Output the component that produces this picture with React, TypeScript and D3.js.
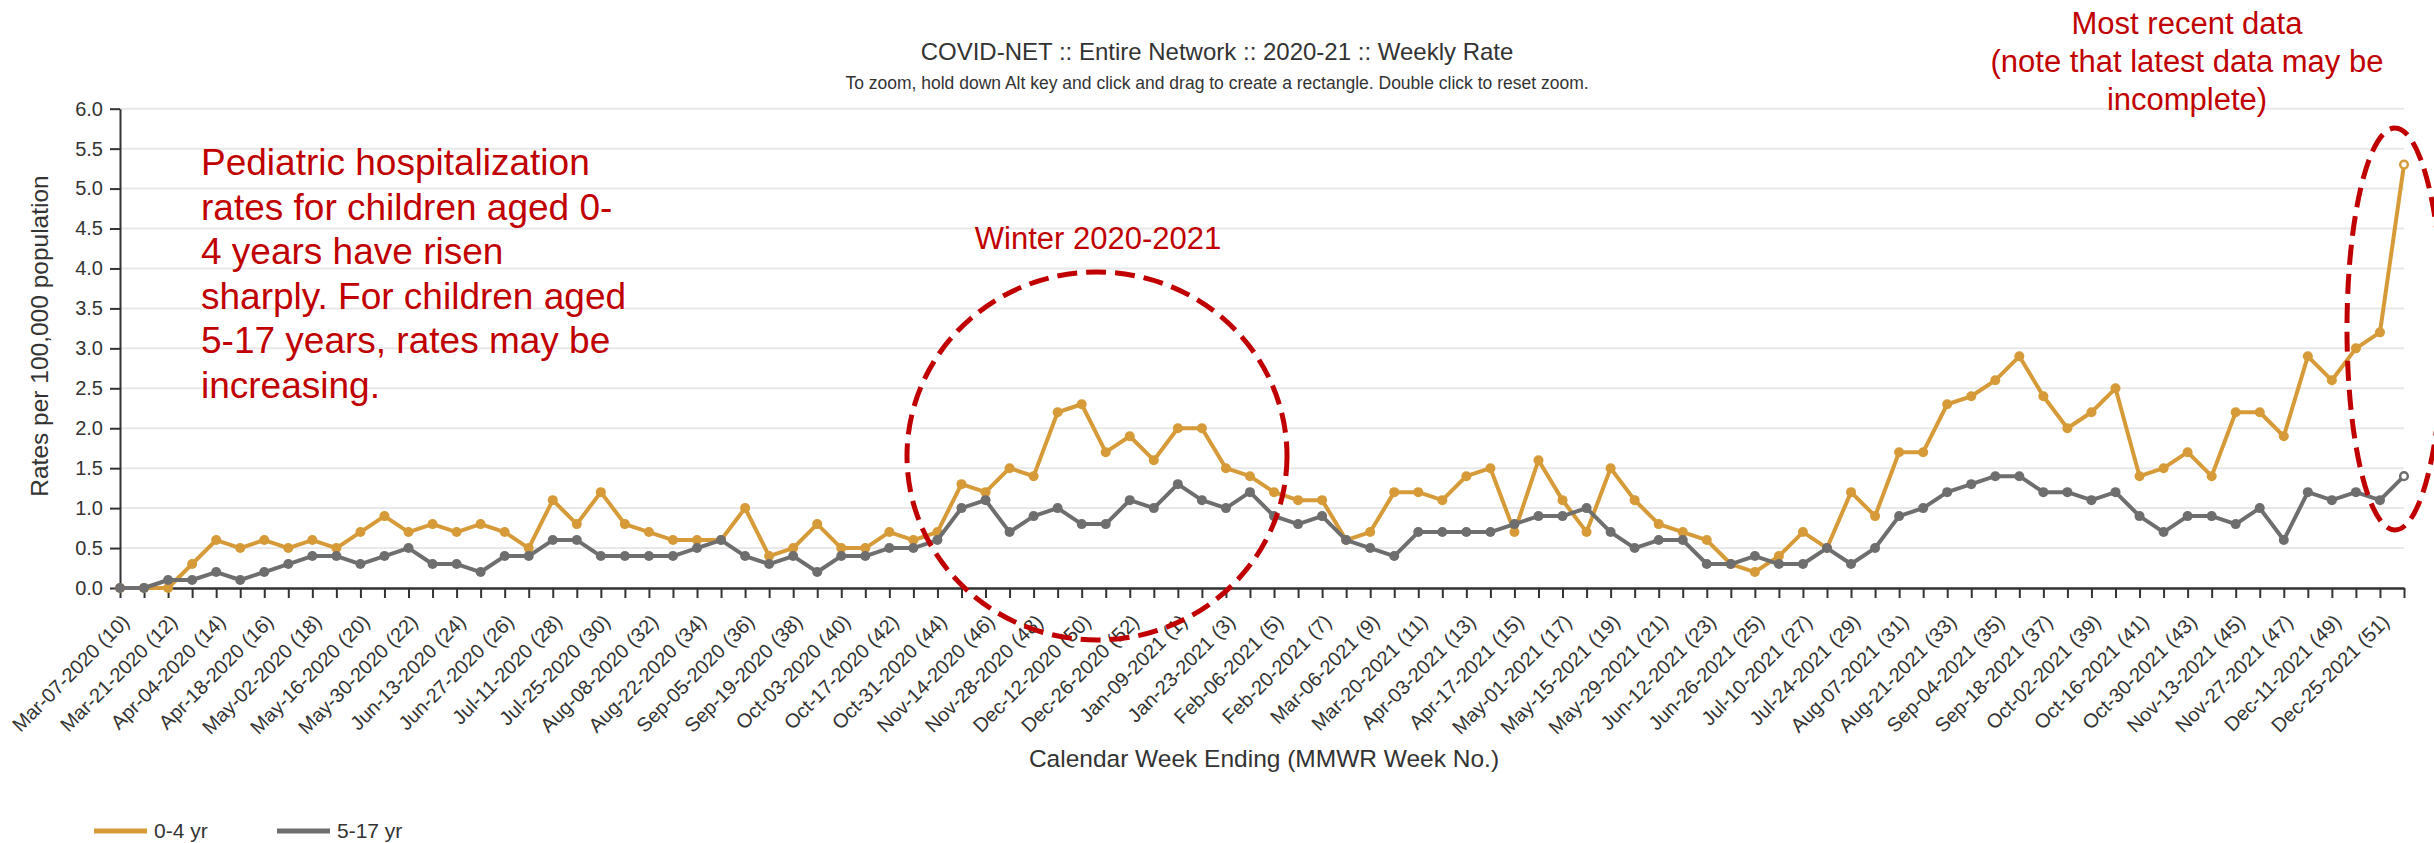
import React, { useEffect, useRef } from 'react';
import * as d3 from 'd3';

// week-ending labels shown on the x axis (every second week)
const weekLabels = [
  'Mar-07-2020 (10)', 'Mar-21-2020 (12)', 'Apr-04-2020 (14)', 'Apr-18-2020 (16)',
  'May-02-2020 (18)', 'May-16-2020 (20)', 'May-30-2020 (22)', 'Jun-13-2020 (24)',
  'Jun-27-2020 (26)', 'Jul-11-2020 (28)', 'Jul-25-2020 (30)', 'Aug-08-2020 (32)',
  'Aug-22-2020 (34)', 'Sep-05-2020 (36)', 'Sep-19-2020 (38)', 'Oct-03-2020 (40)',
  'Oct-17-2020 (42)', 'Oct-31-2020 (44)', 'Nov-14-2020 (46)', 'Nov-28-2020 (48)',
  'Dec-12-2020 (50)', 'Dec-26-2020 (52)', 'Jan-09-2021 (1)', 'Jan-23-2021 (3)',
  'Feb-06-2021 (5)', 'Feb-20-2021 (7)', 'Mar-06-2021 (9)', 'Mar-20-2021 (11)',
  'Apr-03-2021 (13)', 'Apr-17-2021 (15)', 'May-01-2021 (17)', 'May-15-2021 (19)',
  'May-29-2021 (21)', 'Jun-12-2021 (23)', 'Jun-26-2021 (25)', 'Jul-10-2021 (27)',
  'Jul-24-2021 (29)', 'Aug-07-2021 (31)', 'Aug-21-2021 (33)', 'Sep-04-2021 (35)',
  'Sep-18-2021 (37)', 'Oct-02-2021 (39)', 'Oct-16-2021 (41)', 'Oct-30-2021 (43)',
  'Nov-13-2021 (45)', 'Nov-27-2021 (47)', 'Dec-11-2021 (49)', 'Dec-25-2021 (51)',
];

// weekly rates per 100,000, one value per week
const rate0to4 = [
  0, 0, 0, 0.3, 0.6, 0.5, 0.6, 0.5, 0.6, 0.5,
  0.7, 0.9, 0.7, 0.8, 0.7, 0.8, 0.7, 0.5, 1.1, 0.8,
  1.2, 0.8, 0.7, 0.6, 0.6, 0.6, 1.0, 0.4, 0.5, 0.8,
  0.5, 0.5, 0.7, 0.6, 0.7, 1.3, 1.2, 1.5, 1.4, 2.2,
  2.3, 1.7, 1.9, 1.6, 2.0, 2.0, 1.5, 1.4, 1.2, 1.1,
  1.1, 0.6, 0.7, 1.2, 1.2, 1.1, 1.4, 1.5, 0.7, 1.6,
  1.1, 0.7, 1.5, 1.1, 0.8, 0.7, 0.6, 0.3, 0.2, 0.4,
  0.7, 0.5, 1.2, 0.9, 1.7, 1.7, 2.3, 2.4, 2.6, 2.9,
  2.4, 2.0, 2.2, 2.5, 1.4, 1.5, 1.7, 1.4, 2.2, 2.2,
  1.9, 2.9, 2.6, 3.0, 3.2, 5.3,
];

const rate5to17 = [
  0, 0, 0.1, 0.1, 0.2, 0.1, 0.2, 0.3, 0.4, 0.4,
  0.3, 0.4, 0.5, 0.3, 0.3, 0.2, 0.4, 0.4, 0.6, 0.6,
  0.4, 0.4, 0.4, 0.4, 0.5, 0.6, 0.4, 0.3, 0.4, 0.2,
  0.4, 0.4, 0.5, 0.5, 0.6, 1.0, 1.1, 0.7, 0.9, 1.0,
  0.8, 0.8, 1.1, 1.0, 1.3, 1.1, 1.0, 1.2, 0.9, 0.8,
  0.9, 0.6, 0.5, 0.4, 0.7, 0.7, 0.7, 0.7, 0.8, 0.9,
  0.9, 1.0, 0.7, 0.5, 0.6, 0.6, 0.3, 0.3, 0.4, 0.3,
  0.3, 0.5, 0.3, 0.5, 0.9, 1.0, 1.2, 1.3, 1.4, 1.4,
  1.2, 1.2, 1.1, 1.2, 0.9, 0.7, 0.9, 0.9, 0.8, 1.0,
  0.6, 1.2, 1.1, 1.2, 1.1, 1.4,
];

const seriesNames = ['0-4 yr', '5-17 yr'];
const seriesColors = ['#d69b38', '#6e6e6e'];

const pediatricNote = [
  'Pediatric hospitalization',
  'rates for children aged 0-',
  '4 years have risen',
  'sharply. For children aged',
  '5-17 years, rates may be',
  'increasing.',
];
const recentNote = ['Most recent data', '(note that latest data may be', 'incomplete)'];

const FONT = '"Liberation Sans", Arial, Helvetica, sans-serif';
const RED = '#c00000';

const App = () => {
  const svgRef = useRef<SVGSVGElement>(null);

  useEffect(() => {
    const width = 2434;
    const height = 843;
    const margin = { top: 108.7, right: 30, bottom: 255, left: 120 };

    const svg = d3.select(svgRef.current);
    svg.selectAll('*').remove();
    svg.attr('width', width).attr('height', height).style('font-family', FONT);

    const weeks = d3.range(rate0to4.length);
    const xScale = d3.scalePoint<number>()
      .domain(weeks)
      .range([margin.left, 2404]);
    const yScale = d3.scaleLinear()
      .domain([0, 6])
      .range([height - margin.bottom, margin.top]);

    // gridlines
    svg.append('g')
      .selectAll('line')
      .data(yScale.ticks(12))
      .enter()
      .append('line')
      .attr('x1', margin.left)
      .attr('x2', 2404)
      .attr('y1', (d) => yScale(d))
      .attr('y2', (d) => yScale(d))
      .attr('stroke', '#e8e8e8')
      .attr('stroke-width', 2);

    // y axis
    const yAxis = svg.append('g')
      .attr('transform', `translate(${margin.left},0)`)
      .call(d3.axisLeft(yScale).ticks(12).tickSize(10).tickSizeOuter(0).tickFormat(d3.format('.1f')));
    yAxis.select('.domain').attr('stroke', '#333').attr('stroke-width', 2);
    yAxis.selectAll('.tick line').attr('stroke', '#333').attr('stroke-width', 2);
    yAxis.selectAll('.tick text')
      .attr('x', -17)
      .style('font-size', '20px')
      .style('font-family', FONT)
      .attr('fill', '#333');

    // x axis
    const xAxis = svg.append('g')
      .attr('transform', `translate(0,${yScale(0)})`)
      .call(d3.axisBottom(xScale)
        .tickSize(10)
        .tickSizeOuter(0)
        .tickFormat((i) => (i % 2 === 0 ? weekLabels[i / 2] : '')));
    xAxis.select('.domain').attr('stroke', '#333').attr('stroke-width', 2.5);
    xAxis.selectAll('.tick line').attr('stroke', '#333').attr('stroke-width', 2);
    xAxis.selectAll('.tick text')
      .attr('x', 0)
      .attr('y', 0)
      .attr('dy', 0)
      .attr('text-anchor', 'end')
      .attr('transform', 'translate(10,35) rotate(-45)')
      .style('font-size', '20px')
      .style('font-family', FONT)
      .attr('fill', '#333');

    // series
    const line = d3.line<number>()
      .x((_, i) => xScale(i) as number)
      .y((d) => yScale(d));

    [rate0to4, rate5to17].forEach((values, s) => {
      const g = svg.append('g');
      g.append('path')
        .datum(values)
        .attr('fill', 'none')
        .attr('stroke', seriesColors[s])
        .attr('stroke-width', 4)
        .attr('stroke-linejoin', 'round')
        .attr('d', line);
      const last = values.length - 1;
      g.selectAll('circle')
        .data(values)
        .enter()
        .append('circle')
        .attr('cx', (_, i) => xScale(i) as number)
        .attr('cy', (d) => yScale(d))
        .attr('r', (_, i) => (i === last ? 3.8 : 5))
        .attr('fill', (_, i) => (i === last ? '#fff' : seriesColors[s]))
        .attr('stroke', seriesColors[s])
        .attr('stroke-width', (_, i) => (i === last ? 2.5 : 0));
    });

    // titles
    svg.append('text')
      .attr('x', width / 2)
      .attr('y', 60)
      .attr('text-anchor', 'middle')
      .style('font-size', '24px')
      .attr('fill', '#333')
      .text('COVID-NET :: Entire Network :: 2020-21 :: Weekly Rate');

    svg.append('text')
      .attr('x', width / 2)
      .attr('y', 89)
      .attr('text-anchor', 'middle')
      .style('font-size', '17.5px')
      .attr('fill', '#333')
      .text('To zoom, hold down Alt key and click and drag to create a rectangle. Double click to reset zoom.');

    svg.append('text')
      .attr('x', 1264)
      .attr('y', 767)
      .attr('text-anchor', 'middle')
      .style('font-size', '24.5px')
      .attr('fill', '#333')
      .text('Calendar Week Ending (MMWR Week No.)');

    svg.append('text')
      .attr('transform', 'translate(48,336) rotate(-90)')
      .attr('text-anchor', 'middle')
      .style('font-size', '24.5px')
      .attr('fill', '#333')
      .text('Rates per 100,000 population');

    // legend
    const legendX = [94, 277];
    seriesNames.forEach((name, s) => {
      svg.append('line')
        .attr('x1', legendX[s])
        .attr('x2', legendX[s] + 53)
        .attr('y1', 831)
        .attr('y2', 831)
        .attr('stroke', seriesColors[s])
        .attr('stroke-width', 5);
      svg.append('text')
        .attr('x', legendX[s] + 60)
        .attr('y', 838)
        .style('font-size', '21px')
        .attr('fill', '#333')
        .text(name);
    });

    // annotations
    svg.append('text')
      .attr('fill', RED)
      .style('font-size', '37px')
      .selectAll('tspan')
      .data(pediatricNote)
      .enter()
      .append('tspan')
      .attr('x', 201)
      .attr('y', (_, i) => 175 + i * 44.6)
      .text((d) => d);

    svg.append('text')
      .attr('fill', RED)
      .attr('text-anchor', 'middle')
      .style('font-size', '31px')
      .selectAll('tspan')
      .data(recentNote)
      .enter()
      .append('tspan')
      .attr('x', 2187)
      .attr('y', (_, i) => 34 + i * 38)
      .text((d) => d);

    svg.append('text')
      .attr('x', 1098)
      .attr('y', 249)
      .attr('text-anchor', 'middle')
      .attr('fill', RED)
      .style('font-size', '31px')
      .text('Winter 2020-2021');

    svg.append('ellipse')
      .attr('cx', 1097)
      .attr('cy', 456)
      .attr('rx', 190)
      .attr('ry', 184)
      .attr('fill', 'none')
      .attr('stroke', RED)
      .attr('stroke-width', 5)
      .attr('stroke-dasharray', '20 9');

    svg.append('ellipse')
      .attr('cx', 2395)
      .attr('cy', 329)
      .attr('rx', 48)
      .attr('ry', 201)
      .attr('fill', 'none')
      .attr('stroke', RED)
      .attr('stroke-width', 5)
      .attr('stroke-dasharray', '20 9');
  }, []);

  return (
    <svg
      ref={svgRef}
      style={{ position: 'absolute', left: 0, top: 0, background: '#fff' }}
    />
  );
};

export default App;
